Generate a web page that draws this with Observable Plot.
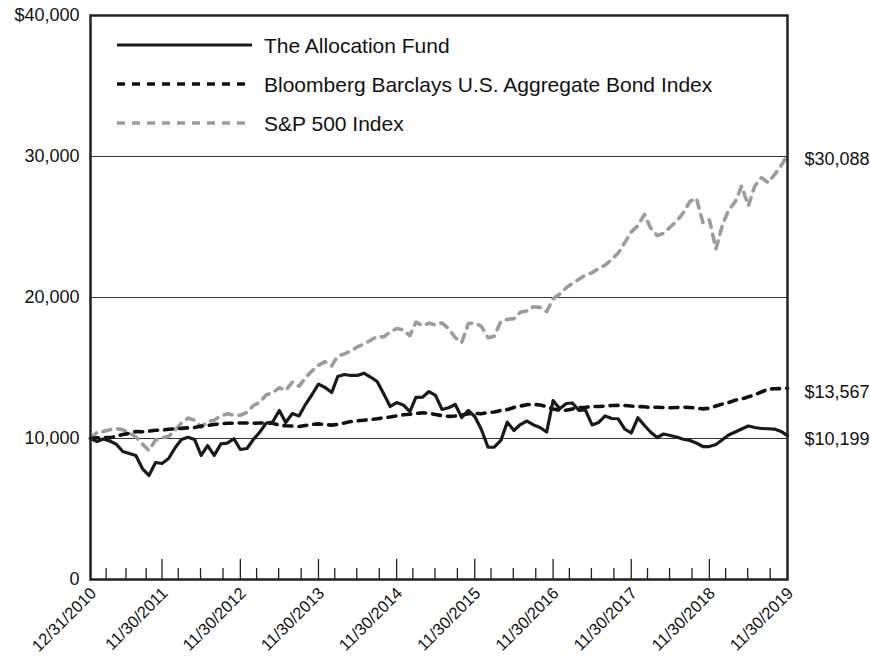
<!DOCTYPE html>
<html><head><meta charset="utf-8">
<script src="https://cdn.jsdelivr.net/npm/d3@7"></script>
<script src="https://cdn.jsdelivr.net/npm/@observablehq/plot@0.6"></script>
<style>
body{margin:0;background:#fff;}
#chart svg{font-family:"Liberation Sans",Arial,Helvetica,sans-serif;}
</style>
</head><body><div id="chart"></div>
<script>
// Monthly growth of $10,000, 12/31/2010 .. 11/30/2019 (108 month-ends)
const fund = [
10000, 9790, 9960, 9820, 9600, 9080, 8940, 8800, 7850, 7380,
8300, 8230, 8580, 9360, 9930, 10090, 9930, 8800, 9500, 8800,
9620, 9670, 9980, 9220, 9290, 9960, 10430, 11100, 11170, 11990,
11130, 11770, 11600, 12410, 13120, 13860, 13620, 13260, 14400, 14540,
14470, 14470, 14630, 14360, 14040, 13190, 12270, 12550, 12380, 11910,
12910, 12930, 13330, 13050, 12060, 12180, 12410, 11490, 11990, 11560,
10640, 9380, 9380, 9860, 11160, 10570, 10990, 11240, 10960, 10780,
10460, 12690, 12110, 12480, 12520, 11990, 12020, 10960, 11130, 11600,
11420, 11400, 10670, 10390, 11470, 10920, 10460, 10070, 10320, 10210,
10110, 9950, 9860, 9680, 9430, 9430, 9570, 9930, 10250, 10460,
10670, 10890, 10780, 10710, 10690, 10670, 10500, 10199];
const bond = [
10000, 10050, 10080, 10060, 10150, 10280, 10360, 10500, 10480, 10520,
10580, 10600, 10650, 10700, 10720, 10760, 10780, 10880, 10920, 10990,
11050, 11080, 11080, 11100, 11100, 11080, 11100, 11100, 11080, 10950,
10900, 10880, 10850, 10920, 11000, 11040, 10990, 10950, 11000, 11100,
11200, 11250, 11300, 11350, 11400, 11470, 11520, 11600, 11680, 11720,
11780, 11820, 11800, 11700, 11620, 11570, 11600, 11650, 11750, 11780,
11760, 11840, 11880, 11990, 12050, 12200, 12300, 12400, 12420, 12380,
12250, 12100, 12000, 12000, 12100, 12200, 12220, 12270, 12270, 12300,
12340, 12350, 12340, 12300, 12270, 12250, 12200, 12220, 12200, 12180,
12200, 12220, 12200, 12150, 12100, 12150, 12300, 12450, 12550, 12720,
12800, 12950, 13100, 13300, 13500, 13530, 13540, 13567];
const sp500 = [
10000, 10450, 10500, 10620, 10700, 10620, 10400, 10100, 9600, 9150,
9900, 10050, 10150, 10600, 11100, 11450, 11300, 10800, 11200, 11300,
11600, 11750, 11650, 11650, 11850, 12350, 12550, 13100, 13250, 13600,
13400, 14000, 13700, 14300, 14800, 15200, 15450, 15150, 15850, 16000,
16200, 16500, 16700, 16950, 17250, 17200, 17550, 17800, 17700, 17300,
18250, 18000, 18180, 18050, 18200, 17800, 17150, 16800, 18150, 18200,
17950, 17150, 17250, 18300, 18450, 18500, 18950, 19050, 19350, 19300,
19000, 19900, 20250, 20700, 21000, 21300, 21600, 21750, 22050, 22300,
22700, 23150, 23900, 24650, 25100, 25900, 24950, 24400, 24550, 25000,
25400, 26000, 26800, 27050, 25300, 25500, 23450, 25200, 26200, 26800,
27900, 26500, 27900, 28500, 28150, 28700, 29350, 30088];

const seriesNames = ["The Allocation Fund", "Bloomberg Barclays U.S. Aggregate Bond Index", "S&P 500 Index"];
const endLabels = ["$10,199", "$13,567", "$30,088"];
const majorTicks = ["2010-12-31","2011-11-30","2012-11-30","2013-11-30","2014-11-30","2015-11-30","2016-11-30","2017-11-30","2018-11-30","2019-11-30"];
const majorTickLabels = ["12/31/2010","11/30/2011","11/30/2012","11/30/2013","11/30/2014","11/30/2015","11/30/2016","11/30/2017","11/30/2018","11/30/2019"];
const minorTicks = ["2011-03-14","2011-06-15","2011-09-17",
"2012-02-14","2012-05-28","2012-09-10","2013-02-14","2013-05-28","2013-09-10",
"2014-02-14","2014-05-28","2014-09-10","2015-02-14","2015-05-28","2015-09-10",
"2016-02-14","2016-05-28","2016-09-10","2017-02-14","2017-05-28","2017-09-10",
"2018-02-14","2018-05-28","2018-09-10","2019-02-14","2019-05-28","2019-09-10"];
const yTicks = [0, 10000, 20000, 30000, 40000];
const yTickLabels = ["0", "10,000", "20,000", "30,000", "$40,000"];
const gridValues = [10000, 20000, 30000];

const parse = d3.utcParse("%Y-%m-%d");
const monthEnd = i => d3.utcDay.offset(d3.utcMonth.offset(new Date(Date.UTC(2011, 0, 1)), i), -1);
const rows = arr => arr.map((v, i) => ({date: monthEnd(i), value: v}));
const last = fund.length - 1;
const endRows = [fund[last], bond[last], sp500[last]].map((v, i) => ({date: monthEnd(last), value: v, label: endLabels[i]}));

const W = 870, H = 659, mT = 15, mR = 83, mB = 80, mL = 90;
const innerH = H - mT - mB;
const yMax = 40000;
const px2val = p => yMax * p / innerH;

const chart = Plot.plot({
  width: W, height: H,
  marginTop: mT, marginRight: mR, marginBottom: mB, marginLeft: mL,
  x: {type: "utc", domain: [parse(majorTicks[0]), parse(majorTicks[majorTicks.length - 1])], axis: null},
  y: {domain: [0, yMax], axis: null},
  style: {fontFamily: '"Liberation Sans", Arial, Helvetica, sans-serif', color: "#111", background: "#fff"},
  marks: [
    Plot.ruleY(gridValues, {stroke: "#333", strokeWidth: 1.2}),
    Plot.ruleX(minorTicks, {x: d => parse(d), y1: 0, y2: px2val(11), stroke: "#222", strokeWidth: 1.3}),
    Plot.ruleX(majorTicks.slice(1, -1), {x: d => parse(d), y1: 0, y2: px2val(20), stroke: "#222", strokeWidth: 1.3}),
    Plot.line(rows(sp500), {x: "date", y: "value", stroke: "#9c9c9c", strokeWidth: 3.6, strokeDasharray: "8,7"}),
    Plot.line(rows(bond), {x: "date", y: "value", stroke: "#111", strokeWidth: 3.6, strokeDasharray: "8,7"}),
    Plot.line(rows(fund), {x: "date", y: "value", stroke: "#1a1a1a", strokeWidth: 3.2}),
    Plot.frame({stroke: "#222", strokeWidth: 2.5}),
    Plot.axisY(yTicks, {tickSize: 0, tickPadding: 11, fontSize: 18, label: null,
      tickFormat: d => yTickLabels[yTicks.indexOf(d)]}),
    Plot.text(majorTicks, {x: d => parse(d), frameAnchor: "bottom", text: (d, i) => majorTickLabels[i],
      rotate: -45, textAnchor: "end", lineAnchor: "middle", dx: 3, dy: 11, fontSize: 16.5, fill: "#111"}),
    Plot.text(endRows, {x: "date", y: "value", text: "label", textAnchor: "start", dx: 17, dy: 4, fontSize: 18, fill: "#111"})
  ]
});
document.getElementById("chart").appendChild(chart);

// legend inside the plot area
const svg = d3.select(chart);
const lg = svg.append("g").attr("class", "legend").attr("text-anchor", "start");
const legendStyles = [
  {stroke: "#1a1a1a", dash: null, width: 3.2},
  {stroke: "#111", dash: "8,7", width: 3.6},
  {stroke: "#9c9c9c", dash: "8,7", width: 3.6}
];
const legendY = [45, 84, 123];
seriesNames.forEach((name, i) => {
  const s = legendStyles[i];
  const ln = lg.append("line").attr("x1", 117).attr("x2", 252).attr("y1", legendY[i]).attr("y2", legendY[i])
    .attr("stroke", s.stroke).attr("stroke-width", s.width);
  if (s.dash) ln.attr("stroke-dasharray", s.dash);
  lg.append("text").attr("x", 264).attr("y", legendY[i] + 7.5).attr("text-anchor", "start")
    .attr("font-size", 21).attr("fill", "#111").text(name);
});
</script>
</body></html>
